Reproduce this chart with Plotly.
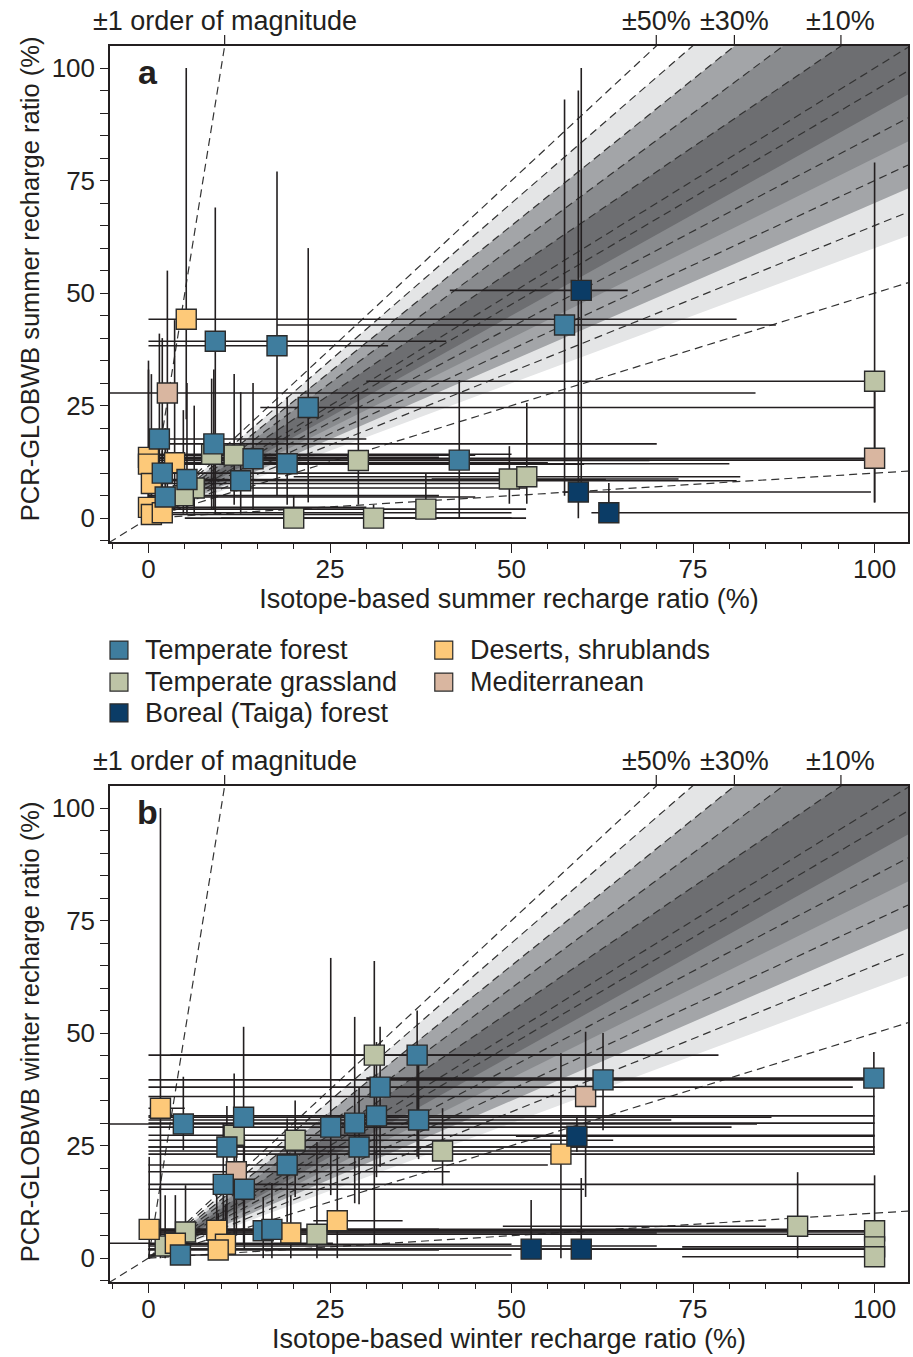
import plotly.graph_objects as go

# ---------------- data ----------------
biome_labels = {
    "TF": "Temperate forest",
    "TG": "Temperate grassland",
    "BF": "Boreal (Taiga) forest",
    "DS": "Deserts, shrublands",
    "MED": "Mediterranean",
}
biome_colors = {
    "TF": "#3f7d9e",
    "TG": "#bdc4a6",
    "BF": "#0b3c66",
    "DS": "#fdc979",
    "MED": "#d9b6a0",
}
legend_order = ["TF", "DS", "TG", "MED", "BF"]

# panel a (summer)
a_biome = ["DS", "TF", "TF", "MED", "TF", "TF", "TF", "TG", "TG", "TF", "TF", "TG",
           "DS", "DS", "DS", "TF", "TF", "TG", "TF", "DS", "TF", "TG", "DS", "DS",
           "DS", "TG", "TG", "TF", "TG", "TG", "TG", "TF", "BF", "BF", "BF", "TG", "MED"]
a_x = [5.2, 9.2, 17.7, 2.6, 22.0, 1.5, 9.0, 8.7, 11.8, 14.4, 19.1, 28.9,
       0.0, 0.0, 3.6, 1.9, 5.3, 6.3, 12.7, 0.4, 2.3, 4.8, 0.0, 0.4,
       1.9, 20.0, 31.0, 42.8, 49.7, 52.1, 38.2, 57.3, 59.6, 59.2, 63.4, 100.0, 100.0]
a_y = [44.2, 39.3, 38.3, 27.8, 24.6, 17.6, 16.5, 14.2, 14.0, 13.2, 12.1, 12.8,
       13.5, 12.0, 12.3, 10.0, 8.6, 6.7, 8.3, 7.7, 4.7, 5.0, 2.4, 0.8,
       1.2, 0.0, 0.0, 12.9, 8.7, 9.2, 2.0, 42.9, 50.6, 5.8, 1.2, 30.4, 13.3]
a_xlo = [0, 0, 0, -8, 15.4, 0, 0, 0, 0, 0, 0, 0,
         0, 0, 0, 0, 0, 0, 0, 0, 0, 0, 0, 0,
         0, 5, 10, 5, 39, 20, 0, 17.7, 41.5, 57, 61, 30, 5]
a_xhi = [81, 41, 33, 83.6, 100, 30, 70, 50, 45, 99, 80, 69,
         40, 60, 55, 50, 63, 52, 81, 50, 45, 40, 30, 30,
         50, 52, 50, 99, 73, 81.5, 52, 86.4, 66, 99.5, 115, 100, 100]
a_ylo = [22, 1, 5, 4, 3.5, 2, 2, 2, 3, 2, 3, 3,
         0, 0, 2, 0, 1, 1, 1, 0, 0, 1, 0, 0,
         0, 0, 0, 0, 3.2, 3.2, 0, 5, 8, 0, 0, 3.5, 3.5]
a_yhi = [100, 69, 77, 55, 60, 41, 33, 31, 32, 30, 27, 28,
         35, 33, 44, 40, 30, 25, 28, 32, 20, 24, 15, 12,
         15, 5, 3, 30.7, 16, 25.6, 10, 93, 100, 95, 7.8, 79, 30]

# panel b (winter)
b_biome = ["TG", "TF", "TF", "DS", "TF", "TF", "TF", "TF", "TF", "TF", "TG", "TF",
           "TG", "TF", "TG", "MED", "TF", "TF", "TF", "DS", "TG", "TG", "DS", "TF",
           "DS", "DS", "DS", "TF", "TF", "DS", "TG", "DS", "TF", "TF", "MED", "BF",
           "DS", "BF", "BF", "TG", "TG", "TG", "TG"]
b_x = [31.1, 37.0, 31.9, 1.65, 4.8, 13.1, 25.1, 28.4, 31.4, 37.2, 11.8, 10.8,
       20.2, 29.0, 40.5, 12.1, 19.1, 10.3, 13.2, 0.1, 5.1, 2.3, 3.7, 4.4,
       9.4, 10.6, 9.6, 15.8, 17.0, 19.6, 23.2, 26.0, 62.6, 99.9, 60.2, 59.0,
       56.8, 52.7, 59.6, 89.4, 100.0, 100.0, 100.0]
b_y = [45.1, 45.1, 38.0, 33.3, 29.8, 31.3, 29.1, 30.0, 31.6, 30.7, 27.3, 24.7,
       26.2, 24.7, 23.8, 19.2, 20.7, 16.4, 15.3, 6.4, 5.8, 2.7, 3.3, 0.7,
       6.2, 3.1, 1.8, 6.1, 6.4, 5.6, 5.3, 8.3, 39.6, 40.0, 35.9, 27.1,
       23.1, 2.0, 2.0, 7.1, 6.1, 2.5, 0.3]
b_xlo = [0, 3, 0, 0, -8, 0, 0, 0, 0, 0, 0, 0,
         0, 0, 0, 0, 0, 0, 0, 0, 0, 0, -8, 0,
         0, 0, 0, 0, 0, 0, 0, 22.7, 0, 30, 0, 50.6,
         0, 0, 0, 48.8, 0, 73.5, 73.5]
b_xhi = [78.5, 68.4, 97, 5, 83.8, 85.8, 80.3, 100, 100, 72, 100, 100,
         64, 100, 100, 41.5, 55, 100, 60, 40, 100, 70, 25.4, 50,
         85, 50, 40, 100, 90, 70, 100, 35, 100, 100, 100, 100,
         100, 100, 100, 85, 100, 100, 100]
b_ylo = [3, 22.5, 20.3, 0, 24, 3, 14, 12.2, 18, 22, 5, 5,
         13.6, 12, 16.2, 5, 8, 2, 2, 0, 0, 0, 0, 0,
         0, 0, 0, 0, 0, 0, 0, 0, 28.4, 22.9, 13.6, 23.6,
         0, 0, 0, 0, 0, 0, 0]
b_yhi = [66, 55, 51.4, 100, 40.3, 51.4, 66.7, 53.6, 48, 44, 41, 33.8,
         35, 38, 33.3, 30, 31, 30, 27, 22.5, 16.2, 14, 14, 8,
         14, 12, 10, 13.6, 16.7, 14, 25.8, 22.9, 50, 45.8, 50.3, 31.4,
         45.5, 12.9, 17.8, 19.1, 18.4, 6, 3]

# reference lines (ratio model/isotope)
band_limits = [(0.6, 1.4), (0.7, 1.3), (0.8, 1.2), (0.9, 1.1)]
band_colors = ["#e4e5e6", "#a3a5a8", "#898b8e", "#6d6e71"]
dashed_ratios = [0.1, 0.5, 0.65, 0.75, 0.85, 0.95, 1.0, 1.1, 1.2, 1.3, 1.4, 1.5, 10.0]
label_ratios = [10.0, 1.5, 1.3, 1.1]
label_texts = ["±1 order of magnitude", "±50%", "±30%", "±10%"]

x_range = [-5.3, 104.6]
y_range = [-5.3, 104.9]
FONT = "Liberation Sans, Arial, sans-serif"
INK = "#231f20"

fig = go.Figure()

panels = [
    ("x", "y", a_x, a_y, a_xlo, a_xhi, a_ylo, a_yhi, a_biome),
    ("x2", "y2", b_x, b_y, b_xlo, b_xhi, b_ylo, b_yhi, b_biome),
]

FAR = 400.0
for xa, ya, px_, py_, pxlo, pxhi, pylo, pyhi, pb in panels:
    # shaded bands
    for (lo, hi), col in zip(band_limits, band_colors):
        fig.add_trace(go.Scatter(
            x=[0, FAR, FAR, 0], y=[0, lo * FAR, hi * FAR, 0],
            fill="toself", fillcolor=col, mode="lines", line=dict(width=0),
            hoverinfo="skip", showlegend=False, xaxis=xa, yaxis=ya))
    # dashed guide lines
    for r in dashed_ratios:
        x0 = -10.0 if r == 1.0 else 0.0
        fig.add_trace(go.Scatter(
            x=[x0, FAR], y=[x0 * r, FAR * r], mode="lines",
            line=dict(color="#333333", width=1.2, dash="8px,5px"),
            hoverinfo="skip", showlegend=False, xaxis=xa, yaxis=ya))
    # error bars (all points, underneath markers)
    fig.add_trace(go.Scatter(
        x=px_, y=py_, mode="markers",
        marker=dict(size=1, color="rgba(0,0,0,0)"),
        error_x=dict(type="data", symmetric=False,
                     array=[h - v for h, v in zip(pxhi, px_)],
                     arrayminus=[v - l for l, v in zip(pxlo, px_)],
                     color=INK, thickness=1.6, width=0),
        error_y=dict(type="data", symmetric=False,
                     array=[h - v for h, v in zip(pyhi, py_)],
                     arrayminus=[v - l for l, v in zip(pylo, py_)],
                     color=INK, thickness=1.6, width=0),
        hoverinfo="skip", showlegend=False, xaxis=xa, yaxis=ya))
    # markers per biome
    for key in ["TG", "DS", "MED", "TF", "BF"]:
        xs = [v for v, b in zip(px_, pb) if b == key]
        ys = [v for v, b in zip(py_, pb) if b == key]
        fig.add_trace(go.Scatter(
            x=xs, y=ys, mode="markers", name=biome_labels[key],
            marker=dict(symbol="square", size=20, color=biome_colors[key],
                        line=dict(color="#2b2b2b", width=1.4)),
            showlegend=False, xaxis=xa, yaxis=ya))

axis_common = dict(
    range=x_range, showgrid=False, zeroline=False, showline=True, mirror=True,
    linecolor=INK, linewidth=1.5, ticks="outside", tickcolor=INK, tickwidth=1.3,
    tickfont=dict(family=FONT, size=26, color=INK), tickvals=[0, 25, 50, 75, 100],
    minor=dict(dtick=5, ticks="outside", ticklen=5, tickcolor=INK, tickwidth=1.2),
)
xtitle_font = dict(family=FONT, size=27, color=INK)

fig.update_layout(
    width=913, height=1357,
    margin=dict(l=110, r=3, t=46, b=75),
    paper_bgcolor="white", plot_bgcolor="white",
    font=dict(family=FONT, color=INK),
    showlegend=False,
    xaxis=dict(axis_common, anchor="y", domain=[0, 1], ticklen=9, ticklabelstandoff=-6,
               title=dict(text="Isotope-based summer recharge ratio (%)",
                          font=xtitle_font, standoff=6)),
    yaxis=dict(axis_common, range=y_range, anchor="x", domain=[0.5987, 1], ticklen=8,
               minor=dict(dtick=5, ticks="outside", ticklen=8, tickcolor=INK, tickwidth=1.2)),
    xaxis2=dict(axis_common, anchor="y2", domain=[0, 1], ticklen=9, ticklabelstandoff=-6,
                title=dict(text="Isotope-based winter recharge ratio (%)",
                           font=xtitle_font, standoff=6)),
    yaxis2=dict(axis_common, range=y_range, anchor="x2", domain=[0, 0.4013], ticklen=8,
                minor=dict(dtick=5, ticks="outside", ticklen=8, tickcolor=INK, tickwidth=1.2)),
)

# y-axis titles as rotated annotations (positioned like the original)
for ytxt, ypos in [("PCR-GLOBWB summer recharge ratio (%)", 0.8115),
                   ("PCR-GLOBWB winter recharge ratio (%)", 0.2023)]:
    fig.add_annotation(x=-0.1, y=ypos, xref="paper", yref="paper", text=ytxt,
                       textangle=-90, showarrow=False, xanchor="center", yanchor="middle",
                       font=dict(family=FONT, size=25.5, color=INK))

# labels above each panel + small ticks where guide lines meet the top
for xa, ya, letter in [("x", "y", "a"), ("x2", "y2", "b")]:
    ytop = y_range[1]
    for r, t in zip(label_ratios, label_texts):
        xc = ytop / r
        fig.add_annotation(x=xc, y=1.0, xref=xa, yref=f"{ya} domain", text=t,
                           showarrow=False, xanchor="center", yanchor="bottom", yshift=8,
                           font=dict(family=FONT, size=27, color=INK))
        fig.add_shape(type="line", x0=xc, x1=xc, y0=1.0, y1=1.022, xref=xa,
                      yref=f"{ya} domain", line=dict(color=INK, width=1.2))
    fig.add_annotation(x=0.0475, y=0.948, xref=f"{xa} domain", yref=f"{ya} domain",
                       text=f"<b>{letter}</b>", showarrow=False,
                       xanchor="center", yanchor="middle",
                       font=dict(family=FONT, size=34, color=INK))

# legend (manual, between panels)
leg_rows = {"TF": (0, 0), "DS": (1, 0), "TG": (0, 1), "MED": (1, 1), "BF": (0, 2)}
col_x = [0.0, 0.407]
row_y = [0.5113, 0.4854, 0.4604]
sq_w = 18 / 800
sq_h = 18 / 1236
for key in legend_order:
    c, r = leg_rows[key]
    x0 = col_x[c]
    yc = row_y[r]
    fig.add_shape(type="rect", xref="paper", yref="paper",
                  x0=x0, x1=x0 + sq_w, y0=yc - sq_h / 2, y1=yc + sq_h / 2,
                  fillcolor=biome_colors[key], line=dict(color="#2b2b2b", width=1.2))
    fig.add_annotation(x=x0 + 0.041, y=yc, xref="paper", yref="paper",
                       text=biome_labels[key], showarrow=False,
                       xanchor="left", yanchor="middle",
                       font=dict(family=FONT, size=27, color=INK))

fig.write_html("out.html")
